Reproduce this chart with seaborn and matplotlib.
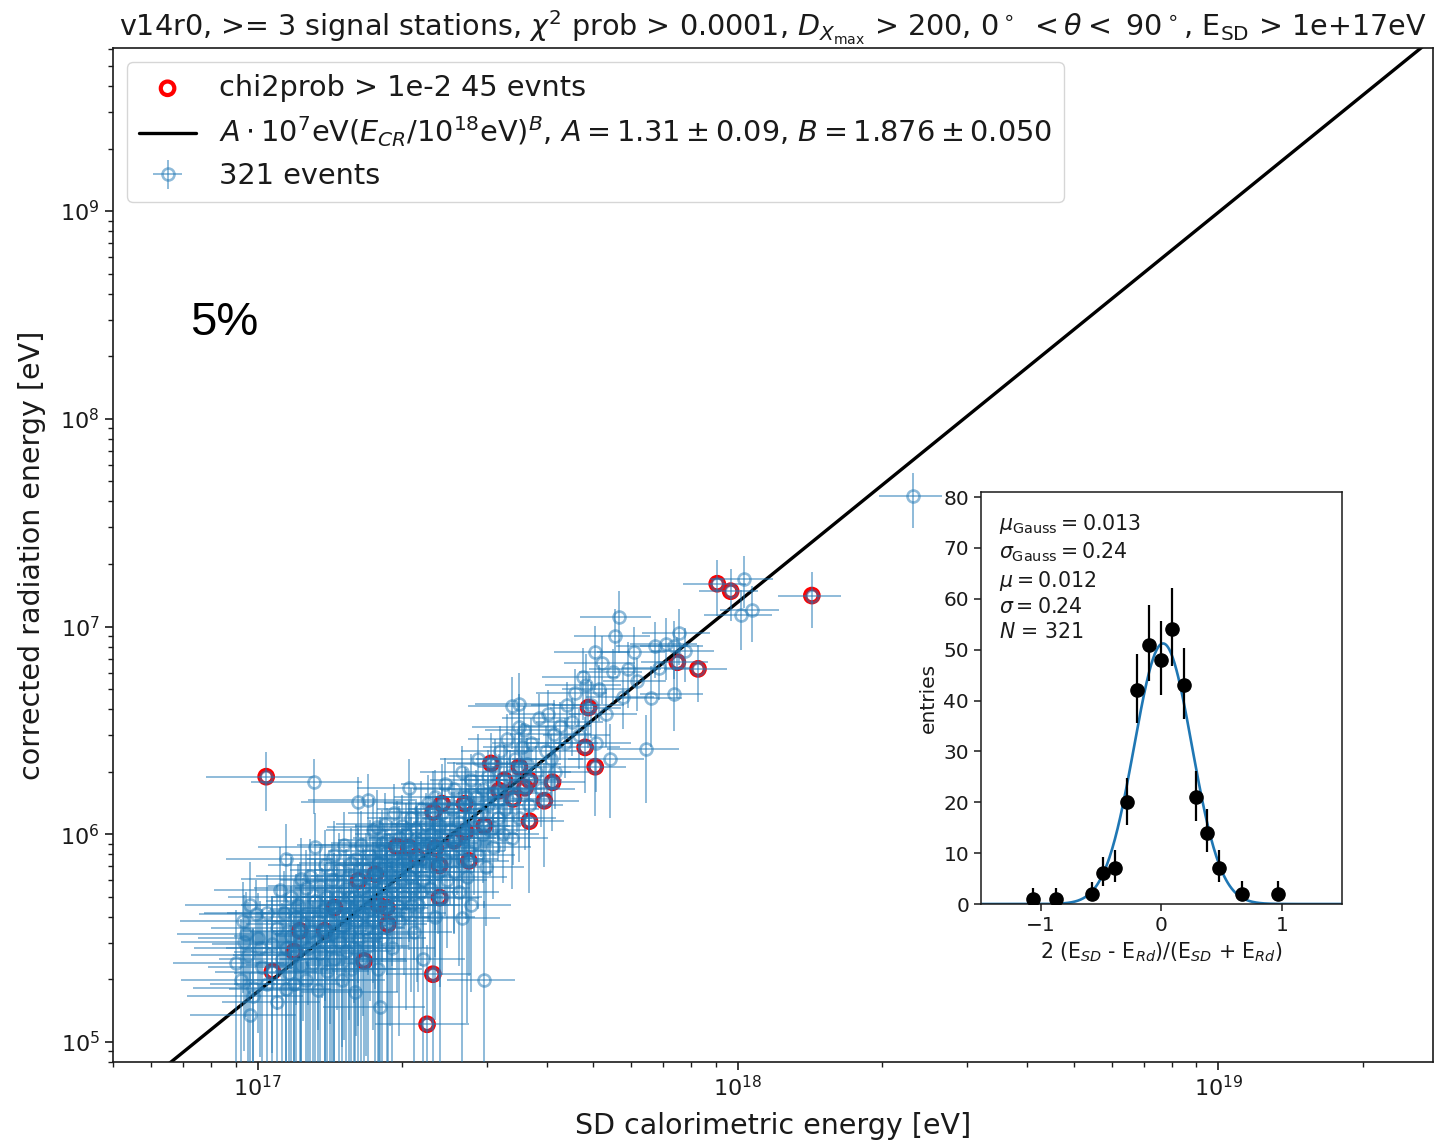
import numpy as np
import matplotlib
matplotlib.use("Agg")
import matplotlib.pyplot as plt
import seaborn as sns

# ---------------------------------------------------------------------------
# Events passing chi2prob > 1e-2 (log10 of energies in eV)
red_sd_log = [17.018, 17.957, 17.985, 18.154, 17.874, 17.917, 17.689, 17.682, 17.703, 17.486,
              17.545, 17.566, 17.614, 17.514, 17.557, 17.532, 17.566, 17.431, 17.384, 17.366,
              17.433, 17.472, 17.370, 17.290, 17.379, 17.245, 17.379, 17.252, 17.269, 17.271,
              17.160, 17.088, 17.140, 17.076, 17.031, 17.222, 17.365, 17.353, 17.315, 17.331,
              17.409, 17.503, 17.210, 17.597, 17.440]
red_rd_log = [6.277, 7.206, 7.170, 7.149, 6.828, 6.796, 6.610, 6.418, 6.325, 6.341,
              6.324, 6.260, 6.250, 6.260, 6.224, 6.170, 6.063, 6.147, 6.147, 6.107,
              6.013, 6.041, 5.933, 5.941, 5.850, 5.808, 5.695, 5.660, 5.647, 5.567,
              5.647, 5.535, 5.535, 5.435, 5.339, 5.390, 5.326, 5.085, 5.937, 5.892,
              5.969, 6.210, 5.776, 6.161, 5.872]
red_sd_err = [0.25, 0.15, 0.14, 0.15, 0.16, 0.15, 0.17, 0.18, 0.16, 0.19,
              0.18, 0.17, 0.17, 0.19, 0.18, 0.20, 0.18, 0.20, 0.21, 0.19,
              0.20, 0.19, 0.22, 0.21, 0.20, 0.22, 0.21, 0.23, 0.22, 0.21,
              0.23, 0.24, 0.22, 0.25, 0.24, 0.23, 0.20, 0.22, 0.21, 0.22,
              0.20, 0.19, 0.23, 0.18, 0.21]
red_rd_err = [0.32, 0.30, 0.28, 0.30, 0.33, 0.31, 0.36, 0.40, 0.42, 0.40,
              0.45, 0.44, 0.42, 0.48, 0.50, 0.52, 0.55, 0.50, 0.56, 0.58,
              0.62, 0.60, 0.70, 0.66, 0.74, 0.72, 0.85, 0.90, 0.88, 1.05,
              0.84, 1.10, 0.95, 1.20, 1.30, 1.25, 1.35, 1.40, 0.68, 0.75,
              0.64, 0.50, 0.80, 0.52, 0.72]

# Remaining events (log10 of energies in eV), relative uncertainties alongside
other_sd_log = [
    18.364, 18.013, 18.006, 18.029, 17.752, 17.745, 17.877, 17.703, 17.718, 17.783,
    17.827, 17.851, 17.866, 17.771, 17.678, 17.684, 17.820, 17.866, 17.809, 17.733,
    17.544, 17.544, 17.118, 17.210, 17.231, 17.316, 16.997, 16.972, 16.984, 17.060,
    17.046, 17.090, 17.255, 17.203, 17.248, 17.471, 17.425, 17.530, 17.436, 17.705, 17.618,
    16.955, 16.975, 16.99, 17.005,
    16.965, 16.97, 16.98, 16.99, 17.00, 17.01, 17.02, 17.02, 17.03, 17.04, 17.04, 17.05,
    17.055, 17.06, 17.065, 17.07, 17.07, 17.075, 17.08, 17.08, 17.085, 17.09, 17.09, 17.095, 17.10, 17.10,
    17.105, 17.105, 17.11, 17.11, 17.115, 17.12, 17.12, 17.125, 17.125, 17.13, 17.13, 17.135, 17.14, 17.14,
    17.145, 17.145, 17.15, 17.15,
    17.155, 17.155, 17.16, 17.16, 17.165, 17.165, 17.17, 17.17, 17.175, 17.175, 17.18, 17.18, 17.185,
    17.185, 17.19, 17.19, 17.195, 17.195, 17.20, 17.20, 17.20,
    17.205, 17.205, 17.21, 17.21, 17.215, 17.215, 17.22, 17.22, 17.225, 17.225, 17.23, 17.23, 17.235,
    17.235, 17.24, 17.24, 17.24, 17.245, 17.245, 17.25, 17.25, 17.25,
    17.255, 17.255, 17.26, 17.26, 17.265, 17.265, 17.27, 17.27, 17.275, 17.275, 17.28, 17.28, 17.285,
    17.285, 17.29, 17.29, 17.295, 17.295, 17.30, 17.30,
    17.305, 17.305, 17.31, 17.31, 17.315, 17.32, 17.32, 17.325, 17.325, 17.33, 17.33, 17.335, 17.335,
    17.34, 17.34, 17.345, 17.345, 17.35, 17.35,
    17.355, 17.355, 17.36, 17.36, 17.365, 17.37, 17.37, 17.375, 17.375, 17.38, 17.385, 17.385, 17.39,
    17.39, 17.395, 17.40, 17.40,
    17.405, 17.41, 17.41, 17.415, 17.42, 17.42, 17.425, 17.425, 17.43, 17.435, 17.44, 17.44, 17.445,
    17.445, 17.45, 17.45,
    17.455, 17.46, 17.46, 17.465, 17.47, 17.475, 17.48, 17.48, 17.485, 17.49, 17.49, 17.495, 17.50, 17.50,
    17.505, 17.51, 17.515, 17.52, 17.525, 17.53, 17.535, 17.54, 17.545, 17.55,
    17.555, 17.56, 17.565, 17.57, 17.58, 17.585, 17.59, 17.60,
    17.605, 17.61, 17.62, 17.63, 17.64, 17.645,
    17.655, 17.66, 17.67, 17.695,
    17.71, 17.725, 17.74,
    17.76, 17.79, 17.835,
    17.89,
    17.28, 17.31, 17.33, 17.36, 17.38, 17.22, 17.19, 17.26, 17.34, 17.42, 17.47, 17.30,
    17.24, 17.18, 17.14, 17.37, 17.44, 17.52, 17.27, 17.32, 17.12, 17.06, 16.985]
other_rd_log = [
    7.627, 7.230, 7.053, 7.080, 7.045, 6.952, 6.968, 6.876, 6.823, 6.876,
    6.908, 6.917, 6.908, 6.796, 6.759, 6.720, 6.656, 6.676, 6.411, 6.362,
    6.629, 6.515, 6.250, 6.153, 6.165, 6.223, 5.618, 5.479, 5.130, 5.254,
    5.731, 5.784, 5.169, 5.238, 6.036, 5.299, 5.599, 6.619, 5.792, 6.441, 6.484,
    5.38, 5.52, 5.26, 5.45,
    5.30, 5.58, 5.42, 5.22, 5.50, 5.36, 5.62, 5.28, 5.47, 5.55, 5.19, 5.40,
    5.62, 5.45, 5.33, 5.70, 5.51, 5.28, 5.60, 5.42, 5.66, 5.37, 5.49, 5.57, 5.30, 5.74,
    5.45, 5.62, 5.53, 5.80, 5.38, 5.68, 5.48, 5.58, 5.25, 5.75, 5.43, 5.63, 5.51, 5.85,
    5.34, 5.70, 5.58, 5.46,
    5.78, 5.52, 5.40, 5.90, 5.62, 5.70, 5.48, 5.83, 5.56, 5.30, 5.67, 5.95, 5.44,
    5.74, 5.60, 5.52, 5.86, 5.35, 5.70, 5.63, 5.45,
    5.58, 5.88, 5.50, 5.68, 5.95, 5.40, 5.74, 5.62, 5.83, 5.55, 5.70, 5.46, 5.90,
    5.64, 5.78, 5.58, 6.02, 5.52, 5.72, 5.86, 5.64, 5.35,
    5.80, 5.92, 5.74, 5.50, 6.05, 5.85, 5.70, 5.97, 5.60, 5.82, 5.90, 5.45, 5.76,
    6.10, 5.66, 5.85, 5.98, 5.58, 5.78, 6.04,
    5.88, 5.70, 6.00, 5.62, 5.80, 6.08, 5.92, 5.74, 5.53, 6.02, 5.84, 5.96, 5.66,
    5.88, 6.12, 5.78, 5.40, 5.95, 6.05,
    5.86, 6.15, 5.74, 6.00, 5.90, 6.18, 5.60, 6.05, 5.82, 5.96, 5.70, 6.10, 5.88,
    6.24, 5.78, 6.02, 5.92,
    6.12, 5.82, 6.22, 5.95, 6.06, 5.72, 6.30, 5.88, 6.00, 6.18, 5.92, 6.08, 5.66,
    6.26, 6.04, 5.96,
    6.18, 5.90, 6.36, 6.10, 6.22, 5.84, 6.14, 6.28, 6.02, 6.20, 5.94, 6.34, 6.08, 6.16,
    6.40, 6.00, 6.12, 6.46, 6.28, 5.98, 6.36, 6.20, 6.08, 6.42,
    6.50, 6.34, 6.14, 6.44, 6.30, 6.56, 6.22, 6.40,
    6.58, 6.36, 6.30, 6.52, 6.44, 6.62,
    6.54, 6.68, 6.48, 6.62,
    6.70, 6.58, 6.78,
    6.66, 6.74, 6.80,
    6.88,
    5.72, 5.90, 5.98, 5.96, 6.04, 5.80, 5.70, 5.96, 5.72, 5.98, 6.00, 5.86,
    5.68, 5.56, 5.64, 5.84, 6.14, 6.22, 5.82, 5.66, 5.94, 5.88, 5.66]
other_sd_err = [
    0.15, 0.15, 0.16, 0.14, 0.17, 0.18, 0.16, 0.18, 0.17, 0.16,
    0.17, 0.16, 0.15, 0.17, 0.18, 0.18, 0.16, 0.15, 0.17, 0.18,
    0.19, 0.20, 0.26, 0.24, 0.25, 0.22, 0.24, 0.26, 0.25, 0.24,
    0.27, 0.25, 0.24, 0.23, 0.21, 0.16, 0.20, 0.19, 0.21, 0.18, 0.19,
    0.26, 0.28, 0.25, 0.27,
    0.25, 0.26, 0.24, 0.27, 0.25, 0.23, 0.26, 0.24, 0.25, 0.27, 0.23, 0.26,
    0.24, 0.25, 0.23, 0.26, 0.24, 0.25, 0.22, 0.26, 0.24, 0.23, 0.25, 0.24, 0.26, 0.22,
    0.24, 0.22, 0.25, 0.23, 0.24, 0.21, 0.25, 0.23, 0.24, 0.22, 0.25, 0.23, 0.21, 0.24,
    0.22, 0.23, 0.25, 0.24,
    0.22, 0.24, 0.23, 0.21, 0.24, 0.22, 0.23, 0.21, 0.24, 0.23, 0.22, 0.20, 0.24,
    0.22, 0.23, 0.21, 0.22, 0.24, 0.23, 0.21, 0.22,
    0.22, 0.21, 0.23, 0.22, 0.20, 0.24, 0.21, 0.23, 0.22, 0.21, 0.23, 0.22, 0.20,
    0.22, 0.21, 0.23, 0.20, 0.22, 0.21, 0.22, 0.23, 0.24,
    0.21, 0.22, 0.20, 0.23, 0.21, 0.22, 0.20, 0.21, 0.22, 0.20, 0.21, 0.23, 0.22,
    0.20, 0.21, 0.22, 0.20, 0.21, 0.22, 0.20,
    0.21, 0.20, 0.22, 0.21, 0.20, 0.19, 0.21, 0.22, 0.20, 0.21, 0.19, 0.20, 0.22,
    0.21, 0.19, 0.20, 0.22, 0.21, 0.20,
    0.20, 0.19, 0.21, 0.20, 0.19, 0.18, 0.21, 0.20, 0.19, 0.20, 0.21, 0.18, 0.20,
    0.19, 0.21, 0.20, 0.19,
    0.19, 0.20, 0.18, 0.19, 0.20, 0.21, 0.18, 0.19, 0.20, 0.18, 0.19, 0.20, 0.21,
    0.18, 0.19, 0.20,
    0.18, 0.19, 0.17, 0.18, 0.19, 0.20, 0.18, 0.17, 0.19, 0.18, 0.20, 0.17, 0.18, 0.19,
    0.17, 0.19, 0.18, 0.17, 0.18, 0.19, 0.17, 0.18, 0.19, 0.17,
    0.17, 0.18, 0.18, 0.17, 0.18, 0.16, 0.18, 0.17,
    0.17, 0.17, 0.18, 0.16, 0.17, 0.16,
    0.16, 0.17, 0.16, 0.17,
    0.16, 0.16, 0.15,
    0.16, 0.15, 0.16,
    0.15,
    0.21, 0.20, 0.20, 0.19, 0.19, 0.22, 0.22, 0.21, 0.20, 0.19, 0.18, 0.20,
    0.22, 0.23, 0.23, 0.20, 0.19, 0.18, 0.21, 0.20, 0.24, 0.25, 0.27]
other_rd_err = [
    0.30, 0.28, 0.32, 0.30, 0.33, 0.35, 0.30, 0.34, 0.36, 0.32,
    0.30, 0.33, 0.31, 0.35, 0.38, 0.40, 0.42, 0.34, 0.45, 0.48,
    0.40, 0.44, 0.30, 0.32, 0.34, 0.38, 0.45, 0.70, 0.60, 1.10,
    0.62, 0.58, 1.20, 1.15, 0.50, 1.40, 0.90, 0.38, 0.80, 0.42, 0.45,
    0.80, 0.60, 0.95, 0.70,
    0.95, 0.55, 0.80, 1.10, 0.65, 0.90, 0.52, 1.00, 0.70, 0.60, 1.20, 0.85,
    0.60, 0.85, 1.05, 0.55, 0.75, 1.15, 0.62, 0.90, 0.58, 1.00, 0.80, 0.66, 1.10, 0.52,
    0.88, 0.64, 0.78, 0.50, 0.98, 0.58, 0.84, 0.70, 1.25, 0.55, 0.92, 0.62, 0.80, 0.48,
    1.05, 0.56, 0.68, 0.86,
    0.52, 0.80, 0.95, 0.46, 0.66, 0.58, 0.86, 0.50, 0.74, 1.15, 0.60, 0.44, 0.90,
    0.55, 0.68, 0.78, 0.48, 1.05, 0.57, 0.64, 0.88,
    0.72, 0.48, 0.82, 0.60, 0.45, 0.95, 0.56, 0.68, 0.50, 0.76, 0.58, 0.88, 0.47,
    0.64, 0.53, 0.70, 0.42, 0.80, 0.57, 0.49, 0.66, 1.05,
    0.52, 0.45, 0.56, 0.82, 0.40, 0.49, 0.58, 0.44, 0.70, 0.51, 0.46, 0.90, 0.54,
    0.38, 0.62, 0.48, 0.43, 0.72, 0.53, 0.41,
    0.47, 0.58, 0.42, 0.66, 0.52, 0.39, 0.45, 0.55, 0.78, 0.41, 0.50, 0.43, 0.62,
    0.47, 0.37, 0.53, 0.95, 0.44, 0.40,
    0.48, 0.36, 0.55, 0.42, 0.46, 0.35, 0.68, 0.40, 0.50, 0.43, 0.58, 0.38, 0.47,
    0.34, 0.53, 0.41, 0.45,
    0.37, 0.50, 0.34, 0.43, 0.39, 0.56, 0.33, 0.47, 0.42, 0.36, 0.45, 0.38, 0.62,
    0.34, 0.40, 0.44,
    0.35, 0.45, 0.32, 0.38, 0.34, 0.48, 0.36, 0.33, 0.40, 0.35, 0.44, 0.32, 0.38, 0.36,
    0.32, 0.42, 0.37, 0.31, 0.34, 0.43, 0.32, 0.35, 0.39, 0.31,
    0.31, 0.33, 0.37, 0.32, 0.34, 0.30, 0.35, 0.32,
    0.30, 0.33, 0.34, 0.31, 0.32, 0.30,
    0.31, 0.30, 0.32, 0.30,
    0.30, 0.31, 0.29,
    0.30, 0.29, 0.30,
    0.29,
    0.56, 0.46, 0.42, 0.43, 0.40, 0.52, 0.58, 0.44, 0.56, 0.43, 0.42, 0.48,
    0.60, 0.72, 0.64, 0.50, 0.36, 0.35, 0.51, 0.62, 0.45, 0.48, 0.60]

# Power-law fit E_rad = A * 1e7 eV * (E_CR / 1e18 eV)^B
fit_A, fit_A_err = 1.31, 0.09
fit_B, fit_B_err = 1.876, 0.050

# Relative-difference histogram (inset)
hist_centers = [-1.07, -0.88, -0.58, -0.49, -0.39, -0.29, -0.20, -0.10, 0.00, 0.09,
                0.19, 0.29, 0.38, 0.48, 0.67, 0.97]
hist_counts = [1, 1, 2, 6, 7, 20, 42, 51, 48, 54, 43, 21, 14, 7, 2, 2]
hist_err_lo = [1.0, 1.0, 1.4, 2.4, 2.6, 4.5, 6.5, 7.1, 6.9, 7.3, 6.6, 4.6, 3.7, 2.6, 1.4, 1.4]
hist_err_hi = [2.1, 2.1, 2.4, 3.3, 3.6, 4.8, 7.2, 7.8, 7.6, 8.2, 7.4, 5.2, 4.6, 3.6, 2.6, 2.6]
hist_bin_width = 0.096
mu_gauss, sigma_gauss = 0.013, 0.24
mu_mean, sigma_std = 0.012, 0.24
n_entries = 321

# ---------------------------------------------------------------------------
sns.set_style("ticks")
plt.rcParams["font.family"] = ["DejaVu Sans"]
plt.rcParams["mathtext.fontset"] = "dejavusans"
for k in ("text.color", "axes.labelcolor", "xtick.color", "ytick.color", "axes.edgecolor"):
    plt.rcParams[k] = "#1a1a1a"

fig = plt.figure(figsize=(14.35, 11.42), dpi=100)
ax = fig.add_axes([0.0787, 0.070, 0.9199, 0.888])
ax.set_xscale("log")
ax.set_yscale("log")

red_sd = 10 ** np.array(red_sd_log)
red_rd = 10 ** np.array(red_rd_log)
all_sd = 10 ** np.array(red_sd_log + other_sd_log)
all_rd = 10 ** np.array(red_rd_log + other_rd_log)
all_sd_err = all_sd * np.array(red_sd_err + other_sd_err)
all_rd_err = all_rd * np.array(red_rd_err + other_rd_err)

sns.scatterplot(x=red_sd, y=red_rd, ax=ax, marker="o", s=95, color="red",
                facecolors="none", edgecolor="red", linewidth=3.0, zorder=1,
                legend=False)
red_handle = ax.collections[-1]

xfit = np.logspace(16.6, 19.6, 200)
yfit = fit_A * 1e7 * (xfit / 1e18) ** fit_B
sns.lineplot(x=xfit, y=yfit, ax=ax, color="black", linewidth=2.4, errorbar=None,
             legend=False, zorder=2)
fit_handle = ax.lines[-1]

eb = ax.errorbar(all_sd, all_rd, xerr=all_sd_err, yerr=all_rd_err, fmt="o",
                 mfc="none", mec="C0", ms=8.6, mew=1.9, ecolor="C0",
                 elinewidth=1.4, alpha=0.5, capsize=0, zorder=3)

ax.set_xlim(5e16, 2.8e19)
ax.set_ylim(8e4, 6.1e9)
ax.set_xlabel("SD calorimetric energy [eV]", fontsize=20.5, labelpad=8)
ax.set_ylabel("corrected radiation energy [eV]", fontsize=20.5, labelpad=10)
ax.tick_params(axis="both", which="major", labelsize=16, length=6, width=1.2)
ax.tick_params(axis="both", which="minor", length=3.5, width=1.0)
for s in ax.spines.values():
    s.set_linewidth(1.2)

ax.set_title(r"v14r0, >= 3 signal stations, $\chi^2$ prob > 0.0001, "
             r"$D_{X_{\rm max}}$ > 200, $0^\circ$ $< \theta <$ $90^\circ$, "
             r"E$_{\rm SD}$ > 1e+17eV", fontsize=20.6, pad=8)

fit_label = (r"$A \cdot 10^7 \mathrm{eV} (E_{CR}/10^{18} \mathrm{eV})^B$, "
             rf"$A = {fit_A:.2f} \pm {fit_A_err:.2f}$, "
             rf"$B = {fit_B:.3f} \pm {fit_B_err:.3f}$")
ax.legend([red_handle, fit_handle, eb],
          [f"chi2prob > 1e-2 {len(red_sd_log)} evnts", fit_label,
           f"{len(all_sd)} events"],
          loc="upper left", fontsize=20.7, frameon=True, handlelength=2.0,
          labelspacing=0.45)

fig.text(224 / 1435, 1 - 323 / 1142, "5%", ha="center", va="center",
         fontsize=34, family="Liberation Sans", color="black")

# ---------------------------------------------------------------------------
# Inset: relative energy difference distribution
ax2 = fig.add_axes([981 / 1435, 1 - 904 / 1142, 361 / 1435, 412 / 1142])
xs = np.linspace(-1.5, 1.5, 400)
amp = n_entries * hist_bin_width / (sigma_gauss * np.sqrt(2 * np.pi))
ys = amp * np.exp(-0.5 * ((xs - mu_gauss) / sigma_gauss) ** 2)
sns.lineplot(x=xs, y=ys, ax=ax2, color="C0", linewidth=1.9, errorbar=None,
             legend=False)
ax2.errorbar(hist_centers, hist_counts, yerr=[hist_err_lo, hist_err_hi],
             fmt="o", color="black", ms=9.5, elinewidth=1.6, capsize=0, zorder=3)
ax2.set_xlim(-1.5, 1.5)
ax2.set_ylim(0, 81)
ax2.set_xticks([-1, 0, 1])
ax2.set_yticks(range(0, 81, 10))
ax2.tick_params(labelsize=14.5, length=5, width=1.1)
for s in ax2.spines.values():
    s.set_linewidth(1.1)
ax2.set_ylabel("entries", fontsize=14.5, labelpad=4)
ax2.set_xlabel(r"2 (E$_{SD}$ - E$_{Rd}$)/(E$_{SD}$ + E$_{Rd}$)", fontsize=14.8)
stats = (rf"$\mu_{{\rm Gauss}} = {mu_gauss:.3f}$" "\n"
         rf"$\sigma_{{\rm Gauss}} = {sigma_gauss:.2f}$" "\n"
         rf"$\mu = {mu_mean:.3f}$" "\n"
         rf"$\sigma = {sigma_std:.2f}$" "\n"
         rf"$N$ = {n_entries}")
ax2.text(0.05, 0.952, stats, transform=ax2.transAxes, va="top", ha="left",
         fontsize=14.8, linespacing=1.27)

fig.savefig("out.png", dpi=100)
